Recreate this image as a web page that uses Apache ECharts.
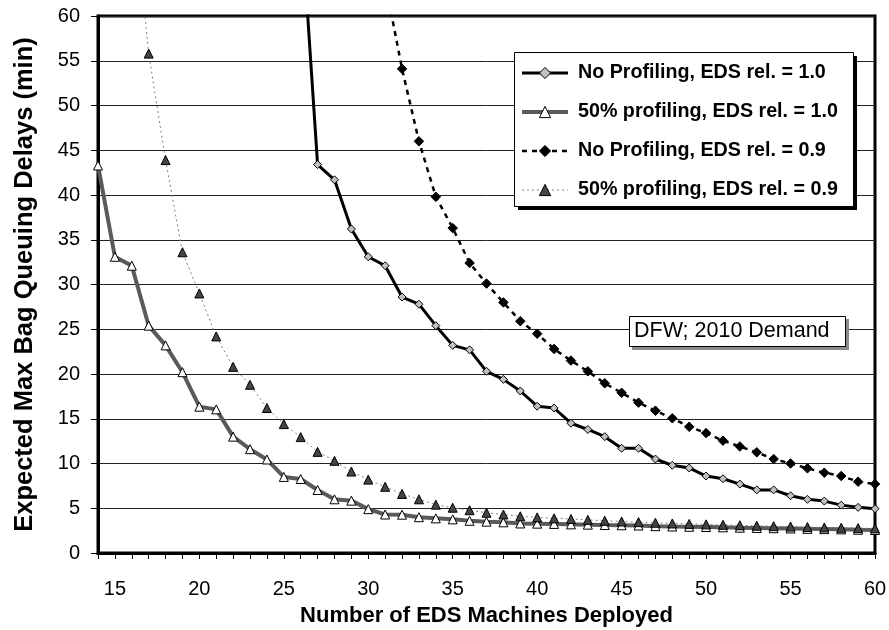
<!DOCTYPE html>
<html><head><meta charset="utf-8">
<script src="https://cdn.jsdelivr.net/npm/echarts@6/dist/echarts.min.js"></script>
<style>html,body{margin:0;padding:0;background:#fff}#c{width:889px;height:630px}</style>
</head><body><div id="c"></div>
<script>
// ---- data ----
const xTickValues = [14,15,16,17,18,19,20,21,22,23,24,25,26,27,28,29,30,31,32,33,34,35,36,37,38,39,40,41,42,43,44,45,46,47,48,49,50,51,52,53,54,55,56,57,58,59,60];
const xLabelValues = [15,20,25,30,35,40,45,50,55,60];
const yTickLabels = [0,5,10,15,20,25,30,35,40,45,50,55,60];

const seriesNames = [
  'No Profiling, EDS rel. = 1.0',
  '50% profiling, EDS rel. = 1.0',
  'No Profiling, EDS rel. = 0.9',
  '50% profiling, EDS rel. = 0.9'
];

// No Profiling, EDS rel. = 1.0  (x = 26..60)
const noProf10X = [26,27,28,29,30,31,32,33,34,35,36,37,38,39,40,41,42,43,44,45,46,47,48,49,50,51,52,53,54,55,56,57,58,59,60];
const noProf10Y = [71.8,43.4,41.7,36.2,33.1,32.1,28.6,27.8,25.4,23.2,22.7,20.3,19.4,18.1,16.4,16.2,14.5,13.8,13.0,11.7,11.7,10.5,9.8,9.5,8.6,8.3,7.7,7.05,7.05,6.4,6.0,5.8,5.35,5.1,4.95];

// 50% profiling, EDS rel. = 1.0  (x = 14..60)
const prof10X = [14,15,16,17,18,19,20,21,22,23,24,25,26,27,28,29,30,31,32,33,34,35,36,37,38,39,40,41,42,43,44,45,46,47,48,49,50,51,52,53,54,55,56,57,58,59,60];
const prof10Y = [43.3,33.1,32.1,25.4,23.2,20.2,16.35,16.05,13.0,11.6,10.45,8.5,8.27,7.04,6.0,5.85,4.9,4.3,4.28,4.0,3.87,3.76,3.6,3.5,3.43,3.3,3.28,3.25,3.2,3.17,3.13,3.1,3.07,3.0,2.96,2.93,2.9,2.87,2.83,2.8,2.77,2.74,2.7,2.67,2.64,2.6,2.57];

// No Profiling, EDS rel. = 0.9  (x = 31..60)
const noProf09X = [31,32,33,34,35,36,37,38,39,40,41,42,43,44,45,46,47,48,49,50,51,52,53,54,55,56,57,58,59,60];
const noProf09Y = [63.8,54.1,46.0,39.8,36.3,32.4,30.1,28.0,25.9,24.5,22.8,21.5,20.3,18.96,17.9,16.8,15.9,15.05,14.1,13.4,12.55,11.9,11.25,10.5,10.0,9.46,8.97,8.6,7.97,7.7];

// 50% profiling, EDS rel. = 0.9  (x = 16..60)
const prof09X = [16,17,18,19,20,21,22,23,24,25,26,27,28,29,30,31,32,33,34,35,36,37,38,39,40,41,42,43,44,45,46,47,48,49,50,51,52,53,54,55,56,57,58,59,60];
const prof09Y = [74.9,55.8,43.9,33.6,29.0,24.2,20.8,18.8,16.2,14.4,12.95,11.3,10.3,9.1,8.2,7.4,6.6,6.0,5.4,5.06,4.78,4.5,4.3,4.1,3.98,3.87,3.8,3.7,3.6,3.52,3.45,3.38,3.3,3.25,3.2,3.15,3.1,3.05,3.0,2.95,2.9,2.85,2.82,2.78,2.75];

const pairs = (xs, ys) => xs.map((x, i) => [x, ys[i]]);

const FONT = 'Liberation Sans, Arial, sans-serif';

const styles = [
  {line: {color: '#000', width: 3}, item: {color: '#c0c0c0', borderColor: '#000', borderWidth: 1}, symbol: 'diamond', size: 8},
  {line: {color: '#5a5a5a', width: 4}, item: {color: '#fff', borderColor: '#000', borderWidth: 1}, symbol: 'triangle', size: 9},
  {line: {color: '#000', width: 2.5, type: [5, 5]}, item: {color: '#000', borderColor: '#000', borderWidth: 1}, symbol: 'diamond', size: 9.5},
  {line: {color: '#808080', width: 1, type: [2, 3]}, item: {color: '#444', borderColor: '#000', borderWidth: 1}, symbol: 'triangle', size: 9}
];
const seriesData = [
  pairs(noProf10X, noProf10Y),
  pairs(prof10X, prof10Y),
  pairs(noProf09X, noProf09Y),
  pairs(prof09X, prof09Y)
];

const chart = echarts.init(document.getElementById('c'), null, {renderer: 'canvas'});
chart.setOption({
  animation: false,
  backgroundColor: '#fff',
  textStyle: {fontFamily: FONT, color: '#000'},
  grid: {left: 98, right: 14, top: 16, bottom: 77, show: true, borderColor: '#000', borderWidth: 3,
         backgroundColor: 'transparent', containLabel: false, outerBoundsMode: 'none'},
  xAxis: {
    type: 'value', min: 14, max: 60,
    name: 'Number of EDS Machines Deployed', nameLocation: 'middle', nameGap: 52,
    nameTextStyle: {fontFamily: FONT, fontSize: 22, fontWeight: 'bold', color: '#000'},
    axisLine: {show: true, onZero: false, lineStyle: {color: '#000', width: 3}},
    axisTick: {show: true, length: 6, customValues: xTickValues, lineStyle: {color: '#000', width: 1}},
    axisLabel: {customValues: xLabelValues, fontFamily: FONT, fontSize: 20, color: '#000', margin: 26},
    splitLine: {show: false}
  },
  yAxis: {
    type: 'value', min: 0, max: 60, interval: 5,
    name: 'Expected Max Bag Queuing Delays (min)', nameLocation: 'middle', nameGap: 60,
    nameTextStyle: {fontFamily: FONT, fontSize: 25.5, fontWeight: 'bold', color: '#000'},
    axisLine: {show: true, lineStyle: {color: '#000', width: 3}},
    axisTick: {show: true, length: 7, lineStyle: {color: '#000', width: 1}},
    axisLabel: {fontFamily: FONT, fontSize: 20, color: '#000', margin: 18,
      formatter: v => (yTickLabels.indexOf(v) >= 0 ? String(v) : '')},
    splitLine: {show: true, lineStyle: {color: '#222', width: 1}}
  },
  legend: {
    orient: 'vertical', left: 514, top: 52,
    padding: [11, 10, 8, 6], itemGap: 19, itemWidth: 46, itemHeight: 14,
    textStyle: {fontFamily: FONT, fontSize: 19.7, fontWeight: 'bold', color: '#000', padding: [0, 0, 0, 5]},
    data: seriesNames.map((n, i) => ({name: n, lineStyle: Object.assign({}, styles[i].line), itemStyle: Object.assign({}, styles[i].item)})),
    z: 10
  },
  graphic: [
    {type: 'rect', z: 5, shape: {x: 518, y: 56, width: 339, height: 154}, style: {fill: '#000'}},
    {type: 'rect', z: 6, shape: {x: 514.5, y: 52.5, width: 339, height: 154}, style: {fill: '#fff', stroke: '#000', lineWidth: 1}},
    {type: 'rect', z: 5, shape: {x: 632, y: 319, width: 217, height: 31}, style: {fill: '#8a8a8a'}},
    {type: 'rect', z: 6, shape: {x: 629.5, y: 316.5, width: 216, height: 30}, style: {fill: '#fff', stroke: '#000', lineWidth: 1}},
    {type: 'text', z: 7, left: 634, top: 320, style: {text: 'DFW; 2010 Demand', font: '21.5px ' + FONT, fill: '#000'}}
  ],
  series: seriesNames.map((n, i) => ({
    name: n, type: 'line', data: seriesData[i], clip: true,
    symbol: styles[i].symbol, symbolSize: styles[i].size, showAllSymbol: true,
    lineStyle: styles[i].line, itemStyle: styles[i].item
  }))
});
</script></body></html>
